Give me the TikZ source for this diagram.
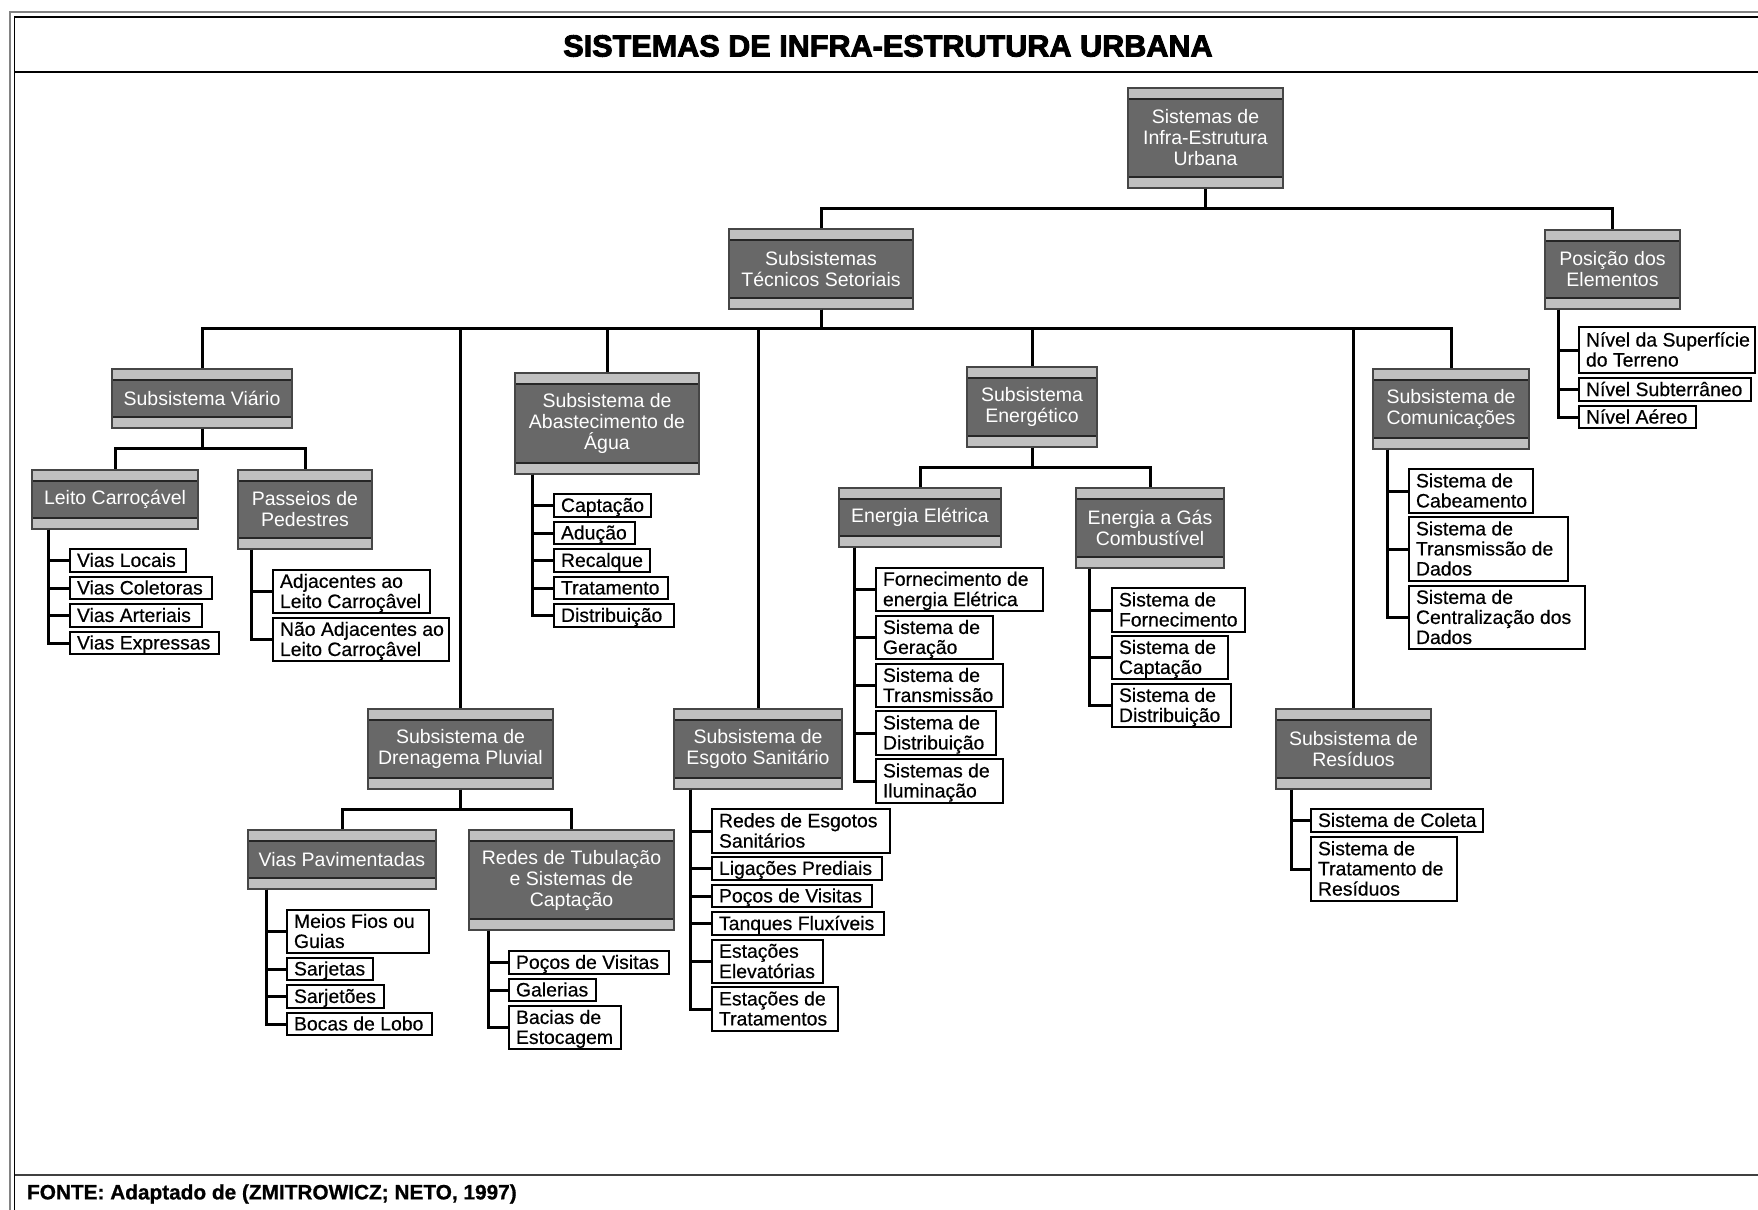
\documentclass[tikz,border=0pt]{standalone}
\usepackage{fontspec}
\setmainfont{Liberation Sans}
\newfontfamily\titlefam[BoldFeatures={FakeBold=3}]{Liberation Sans}
\newfontfamily\leaffam[FakeBold=0.5]{Liberation Sans}
\newfontfamily\footfam[BoldFeatures={FakeBold=0.8}]{Liberation Sans}

\definecolor{hdrfill}{RGB}{104,104,104}
\definecolor{hdrbar}{RGB}{192,192,192}
\definecolor{hdredge}{RGB}{70,70,70}
\definecolor{frameouter}{RGB}{130,130,130}

\newcommand\hdrfont{\fontsize{9.75}{10.5}\selectfont}
\newcommand\leaffont{\leaffam\fontsize{9.7}{10}\selectfont}

\tikzset{
  hdrbox/.style={draw=hdredge, line width=0.6pt, fill=hdrfill, text=white,
    font=\hdrfont, align=center, inner sep=0pt,
    path picture={
      \fill[hdrbar] (path picture bounding box.north west) rectangle
        ([yshift=-5.5pt]path picture bounding box.north east);
      \fill[hdrbar] (path picture bounding box.south west) rectangle
        ([yshift=5.5pt]path picture bounding box.south east);
      \draw[black!85, line width=0.6pt]
        ([yshift=-5.5pt]path picture bounding box.north west) --
        ([yshift=-5.5pt]path picture bounding box.north east)
        ([yshift=5.5pt]path picture bounding box.south west) --
        ([yshift=5.5pt]path picture bounding box.south east);
    }},
  leafbox/.style={draw=black, line width=0.6pt, fill=white, font=\leaffont,
    inner xsep=0pt, inner ysep=0pt},
  link/.style={line width=1.5pt, black},
  frameline/.style={line width=0.9pt},
}

% header box from its corner coordinates (x1,y1)-(x2,y2)
\newcommand\hdrnode[6]{%
  \pgfmathsetmacro\hdrw{(#4-#2)*0.5}%
  \pgfmathsetmacro\hdrh{(#5-#3)*0.5}%
  \node[hdrbox, minimum width=\hdrw pt, minimum height=\hdrh pt]
    (#1) at ({(#2+#4)/2},{(#3+#5)/2}) {#6};}

% white item box with left-aligned lines
\newcommand\leafnode[6]{%
  \pgfmathsetmacro\leafw{(#4-#2)*0.5}%
  \pgfmathsetmacro\leafh{(#5-#3)*0.5}%
  \node[leafbox, minimum width=\leafw pt, minimum height=\leafh pt]
    (#1) at ({(#2+#4)/2},{(#3+#5)/2})
    {\makebox[\leafw pt][l]{\hspace{3.5pt}\raisebox{-1.2pt}[\height][\depth]{%
      \begin{tabular}{@{}l@{}}#6\end{tabular}}}};}

\begin{document}
\begin{tikzpicture}[x=0.5pt,y=-0.5pt]
\useasboundingbox (0,0) rectangle (1758,1210);

% page frame
\begin{scope}
  \clip (0,0) rectangle (1758,1210);
  \draw[frameline, frameouter] (10,12) rectangle (1800,1300);
  \draw[frameline, black] (14.5,17) rectangle (1800,1300);
  \draw[frameline, black] (14.5,72) -- (1800,72);
  \draw[frameline, black!75] (14.5,1175) -- (1800,1175);
\end{scope}

\node[font={\titlefam\bfseries\fontsize{15.3}{18}\selectfont}] (title) at (888,46)
  {SISTEMAS DE INFRA-ESTRUTURA URBANA};
\node[anchor=west, font={\footfam\bfseries\fontsize{10.4}{12}\selectfont}] (fonte) at (20,1194)
  {FONTE: Adaptado de (ZMITROWICZ; NETO, 1997)};

% header boxes
\hdrnode{root}{1128}{88}{1283}{188}{Sistemas de\\Infra-Estrutura\\Urbana}
\hdrnode{tec}{729}{229}{913}{309}{Subsistemas\\Técnicos Setoriais}
\hdrnode{pos}{1545}{230}{1680}{309}{Posição dos\\Elementos}
\hdrnode{viario}{112}{369}{292}{428}{Subsistema Viário}
\hdrnode{abast}{515}{373}{699}{474}{Subsistema de\\Abastecimento de\\Água}
\hdrnode{energ}{967}{367}{1097}{447}{Subsistema\\Energético}
\hdrnode{comun}{1373}{369}{1529}{449}{Subsistema de\\Comunicações}
\hdrnode{leito}{32}{470}{198}{529}{Leito Carroçável}
\hdrnode{passeios}{238}{470}{372}{549}{Passeios de\\Pedestres}
\hdrnode{eletr}{839}{488}{1001}{547}{Energia Elétrica}
\hdrnode{gas}{1076}{488}{1224}{568}{Energia a Gás\\Combustível}
\hdrnode{dren}{368}{709}{553}{789}{Subsistema de\\Drenagema Pluvial}
\hdrnode{esgoto}{674}{709}{842}{789}{Subsistema de\\Esgoto Sanitário}
\hdrnode{resid}{1276}{709}{1431}{789}{Subsistema de\\Resíduos}
\hdrnode{vp}{248}{830}{436}{889}{Vias Pavimentadas}
\hdrnode{rt}{469}{830}{674}{930}{Redes de Tubulação\\e Sistemas de\\Captação}

% item boxes
\leafnode{vl1}{70}{549}{186}{572}{Vias Locais}
\leafnode{vl2}{70}{577}{212}{599}{Vias Coletoras}
\leafnode{vl3}{70}{604}{202}{627}{Vias Arteriais}
\leafnode{vl4}{70}{632}{219}{654}{Vias Expressas}

\leafnode{pp1}{273}{570}{430}{613}{Adjacentes ao\\Leito Carroçâvel}
\leafnode{pp2}{273}{618}{449}{661}{Não Adjacentes ao\\Leito Carroçâvel}

\leafnode{ab1}{554}{494}{651}{517}{Captação}
\leafnode{ab2}{554}{522}{635}{544}{Adução}
\leafnode{ab3}{554}{549}{650}{572}{Recalque}
\leafnode{ab4}{554}{577}{668}{599}{Tratamento}
\leafnode{ab5}{554}{604}{674}{627}{Distribuição}

\leafnode{el1}{876}{568}{1043}{611}{Fornecimento de\\energia Elétrica}
\leafnode{el2}{876}{616}{993}{659}{Sistema de\\Geração}
\leafnode{el3}{876}{664}{1003}{707}{Sistema de\\Transmissão}
\leafnode{el4}{876}{711}{996}{755}{Sistema de\\Distribuição}
\leafnode{el5}{876}{759}{1003}{803}{Sistemas de\\Iluminação}

\leafnode{gs1}{1112}{588}{1245}{632}{Sistema de\\Fornecimento}
\leafnode{gs2}{1112}{636}{1228}{679}{Sistema de\\Captação}
\leafnode{gs3}{1112}{684}{1231}{727}{Sistema de\\Distribuição}

\leafnode{cm1}{1409}{469}{1533}{513}{Sistema de\\Cabeamento}
\leafnode{cm2}{1409}{517}{1568}{581}{Sistema de\\Transmissão de\\Dados}
\leafnode{cm3}{1409}{586}{1585}{649}{Sistema de\\Centralização dos\\Dados}

\leafnode{ps1}{1579}{327}{1755}{373}{Nível da Superfície\\do Terreno}
\leafnode{ps2}{1579}{378}{1751}{401}{Nível Subterrâneo}
\leafnode{ps3}{1579}{406}{1696}{428}{Nível Aéreo}

\leafnode{vp1}{287}{910}{429}{953}{Meios Fios ou\\Guias}
\leafnode{vp2}{287}{958}{373}{980}{Sarjetas}
\leafnode{vp3}{287}{985}{384}{1008}{Sarjetões}
\leafnode{vp4}{287}{1013}{432}{1035}{Bocas de Lobo}

\leafnode{rt1}{509}{951}{669}{974}{Poços de Visitas}
\leafnode{rt2}{509}{979}{596}{1001}{Galerias}
\leafnode{rt3}{509}{1006}{621}{1049}{Bacias de\\Estocagem}

\leafnode{es1}{712}{809}{890}{853}{Redes de Esgotos\\Sanitários}
\leafnode{es2}{712}{857}{882}{880}{Ligações Prediais}
\leafnode{es3}{712}{885}{872}{907}{Poços de Visitas}
\leafnode{es4}{712}{912}{884}{935}{Tanques Fluxíveis}
\leafnode{es5}{712}{940}{823}{983}{Estações\\Elevatórias}
\leafnode{es6}{712}{987}{838}{1031}{Estações de\\Tratamentos}

\leafnode{rs1}{1311}{809}{1483}{832}{Sistema de Coleta}
\leafnode{rs2}{1311}{837}{1457}{901}{Sistema de\\Tratamento de\\Resíduos}

% tree connectors
\foreach \c in {tec,pos}
  \draw[link] (root.south) -- ++(0,20) -| (\c.north);
\foreach \c in {viario,dren,abast,esgoto,energ,resid,comun}
  \draw[link] (tec.south) -- ++(0,19) -| (\c.north);
\foreach \c in {leito,passeios}
  \draw[link] (viario.south) -- ++(0,20) -| (\c.north);
\foreach \c in {eletr,gas}
  \draw[link] (energ.south) -- ++(0,20) -| (\c.north);
\foreach \c in {vp,rt}
  \draw[link] (dren.south) -- ++(0,20) -| (\c.north);

% item spines
\foreach \l in {vl1,vl2,vl3,vl4}
  \draw[link] (leito.south west) ++(17,0) |- (\l.west);
\foreach \l in {pp1,pp2}
  \draw[link] (passeios.south west) ++(14,0) |- (\l.west);
\foreach \l in {ab1,ab2,ab3,ab4,ab5}
  \draw[link] (abast.south west) ++(18,0) |- (\l.west);
\foreach \l in {el1,el2,el3,el4,el5}
  \draw[link] (eletr.south west) ++(16,0) |- (\l.west);
\foreach \l in {gs1,gs2,gs3}
  \draw[link] (gas.south west) ++(14,0) |- (\l.west);
\foreach \l in {cm1,cm2,cm3}
  \draw[link] (comun.south west) ++(15,0) |- (\l.west);
\foreach \l in {ps1,ps2,ps3}
  \draw[link] (pos.south west) ++(14,0) |- (\l.west);
\foreach \l in {vp1,vp2,vp3,vp4}
  \draw[link] (vp.south west) ++(19,0) |- (\l.west);
\foreach \l in {rt1,rt2,rt3}
  \draw[link] (rt.south west) ++(20,0) |- (\l.west);
\foreach \l in {es1,es2,es3,es4,es5,es6}
  \draw[link] (esgoto.south west) ++(17,0) |- (\l.west);
\foreach \l in {rs1,rs2}
  \draw[link] (resid.south west) ++(16,0) |- (\l.west);
\end{tikzpicture}
\end{document}
